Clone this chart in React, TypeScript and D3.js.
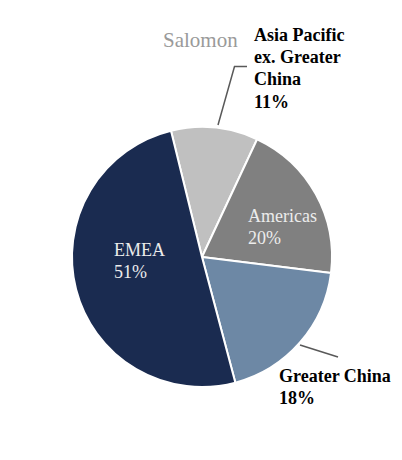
import React from "react";
import * as d3 from "d3";

const categories = ["Asia Pacific ex. Greater China", "Americas", "Greater China", "EMEA"];
const values = [10.8, 20, 18.9, 50.3];
const labelLines = [["Asia Pacific", "ex. Greater", "China", "11%"], ["Americas", "20%"], ["Greater China", "18%"], ["EMEA", "51%"]];
const colors = ["#c0c0c0", "#808080", "#6d88a5", "#1a2b50"];
const sourceLabel = "Salomon";

const W = 402, H = 460;
const cx = 202, cy = 257, R = 130;
const font = "Liberation Serif, Times New Roman, Times, serif";

export default function App() {
  const start = (-13.8 * Math.PI) / 180;
  const pie = d3.pie<number>().sort(null).startAngle(start).endAngle(start + 2 * Math.PI);
  const arcs = pie(values);
  const arc = d3.arc<d3.PieArcDatum<number>>().innerRadius(0).outerRadius(R);

  // label layouts: [x, y (first baseline), lineHeight, bold, fill]
  const layouts: [number, number, number, boolean, string][] = [
    [254, 41, 22.2, true, "#000"],
    [248, 222, 22, false, "#ececec"],
    [279, 382, 22, true, "#000"],
    [114, 256, 22, false, "#ececec"],
  ];

  return (
    <svg width={W} height={H} style={{ position: "absolute", left: 0, top: 0, background: "#fff" }}>
      <g transform={`translate(${cx},${cy})`}>
        {arcs.map((a, i) => (
          <path key={categories[i]} d={arc(a) || ""} fill={colors[i]} stroke="#fff" strokeWidth={2} strokeLinejoin="round" />
        ))}
      </g>
      <polyline points="218,125 234.5,66.5 247,66.5" fill="none" stroke="#595959" strokeWidth={1.5} />
      <line x1={300} y1={345} x2={338} y2={357} stroke="#595959" strokeWidth={1.5} />
      <text x={163} y={47} fontFamily={font} fontSize={21} fill="#9a9a9a">{sourceLabel}</text>
      {labelLines.map((lines, i) => {
        const [x, y, lh, bold, fill] = layouts[i];
        return (
          <text key={categories[i]} x={x} y={y} fontFamily={font} fontSize={18} fontWeight={bold ? "bold" : "normal"} fill={fill}>
            {lines.map((t, j) => (
              <tspan key={j} x={x} y={y + j * lh}>{t}</tspan>
            ))}
          </text>
        );
      })}
    </svg>
  );
}
